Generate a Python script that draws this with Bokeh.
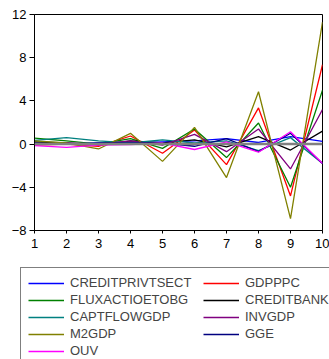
from bokeh.plotting import figure
from bokeh.layouts import column, row
from bokeh.models import Span, Legend, LegendItem, Range1d, FixedTicker
from bokeh.embed import file_html
from bokeh.resources import INLINE

periods = [1, 2, 3, 4, 5, 6, 7, 8, 9, 10]
names = ["CREDITPRIVTSECT", "GDPPPC", "FLUXACTIOETOBG", "CREDITBANK",
         "CAPTFLOWGDP", "INVGDP", "M2GDP", "GGE", "OUV"]
colors = ["#0000FF", "#FF0000", "#008000", "#000000",
          "#008080", "#800080", "#808000", "#000080", "#FF00FF"]

creditprivtsect = [0.10, 0.00, 0.10, 0.10, 0.20, 0.30, 0.50, 0.15, 0.70, 0.25]
gdpppc          = [-0.10, 0.00, -0.20, 0.75, -0.85, 1.30, -1.90, 3.35, -4.80, 7.35]
fluxactioetobg  = [0.55, 0.30, 0.00, 0.50, -0.40, 1.40, -1.25, 1.95, -4.00, 5.00]
creditbank      = [0.20, 0.10, -0.10, 0.30, 0.10, 0.40, -0.25, 0.70, -0.55, 1.20]
captflowgdp     = [0.35, 0.60, 0.30, 0.10, 0.40, 0.10, 0.30, -0.60, 0.60, -1.80]
invgdp          = [0.00, 0.10, 0.00, 0.30, -0.10, 0.90, -0.70, 1.40, -2.30, 3.20]
m2gdp           = [0.30, 0.10, -0.45, 1.00, -1.60, 1.55, -3.10, 4.85, -6.90, 11.30]
gge             = [0.00, 0.00, 0.10, 0.10, 0.10, -0.20, 0.50, -0.70, 1.00, -1.80]
ouv             = [-0.15, -0.30, -0.10, -0.05, 0.10, -0.50, 0.20, -0.75, 1.15, -1.80]

series = [creditprivtsect, gdpppc, fluxactioetobg, creditbank,
          captflowgdp, invgdp, m2gdp, gge, ouv]

y_ticks = [-8, -4, 0, 4, 8, 12]

p = figure(width=329, height=255, output_backend="svg", toolbar_location=None,
           x_range=Range1d(1, 10), y_range=Range1d(-8, 12),
           min_border_left=34, min_border_right=7, min_border_top=14,
           min_border_bottom=25)
p.xgrid.visible = False
p.ygrid.visible = False
p.outline_line_color = "black"
p.outline_line_width = 1
p.background_fill_color = "white"
p.border_fill_color = "white"

p.add_layout(Span(location=0, dimension="width", line_color="#808080", line_width=2.5))

for name, col, vals in zip(names, colors, series):
    p.line(periods, vals, line_color=col, line_width=1.3)

for ax in (p.xaxis[0], p.yaxis[0]):
    ax.axis_line_color = "black"
    ax.major_tick_line_color = "black"
    ax.minor_tick_line_color = None
    ax.major_tick_in = 0
    ax.major_label_text_font = "Liberation Sans"
    ax.major_label_text_font_size = "13px"
    ax.major_label_text_color = "black"

p.xaxis[0].ticker = FixedTicker(ticks=periods)
p.xaxis[0].major_tick_out = 3
p.xaxis[0].major_label_standoff = 5
p.yaxis[0].ticker = FixedTicker(ticks=y_ticks)
p.yaxis[0].major_tick_out = 5
p.yaxis[0].major_label_standoff = 3

# legend panel (its series lie outside its range, only the legend shows)
lg = figure(width=329, height=104, output_backend="svg", toolbar_location=None,
            min_border=0, min_border_left=0, min_border_right=0,
            min_border_top=0, min_border_bottom=0,
            x_axis_location=None, y_axis_location=None,
            x_range=Range1d(100, 101), y_range=Range1d(100, 101))
lg.grid.visible = False
lg.outline_line_color = None
lg.border_fill_color = "white"
lg.background_fill_color = "white"

items = []
for name, col, vals in zip(names, colors, series):
    r = lg.line(periods, vals, line_color=col, line_width=1.3)
    items.append(LegendItem(label=name, renderers=[r]))

legend = Legend(items=items, location=(20, -7), orientation="horizontal", ncols=2,
                glyph_width=36, glyph_height=10, label_height=10, label_width=131,
                label_standoff=6, spacing=2, padding=7, margin=0,
                label_text_font="Liberation Sans", label_text_font_size="13px",
                border_line_color="black", border_line_width=1,
                background_fill_alpha=1.0)
lg.add_layout(legend, "center")

layout = column(p, row(lg, spacing=0), spacing=0)
open("out.html", "w").write(file_html(layout, INLINE))
